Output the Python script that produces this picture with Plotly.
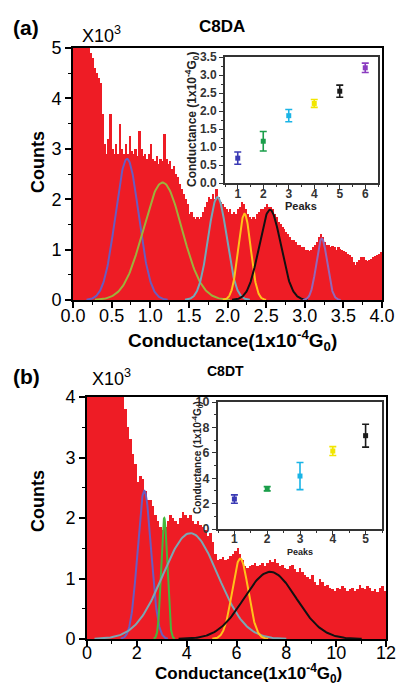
import numpy as np
import plotly.graph_objects as go

W, H = 397, 685

# ---------------- Panel (a): C8DA ----------------
a_bin_width = 0.025
a_counts = [  # x10^3 counts, bins starting at 0.0
    5.5, 5.6, 5.8, 5.5, 5.7, 5.4, 5.6, 5.3, 5.1, 4.9,
    4.8, 4.6, 4.5, 4.4, 4.3, 3.7, 3.1, 2.9, 3.2, 3.7,
    3.0, 2.9, 3.1, 2.9, 3.5, 3.0, 2.9, 3.1, 2.9, 3.25,
    2.95, 2.9, 3.0, 2.85, 3.35, 3.0, 2.85, 2.9, 2.8, 2.9,
    3.1, 2.8, 2.75, 2.85, 2.7, 2.8, 2.75, 3.3, 2.8, 2.7,
    2.75, 2.6, 2.65, 2.5, 2.45, 2.3, 2.2, 2.1, 2.0, 1.9,
    1.7, 1.75, 1.65, 1.6, 1.65, 1.6, 1.65, 1.75, 1.85, 1.95,
    2.05, 2.0, 2.1, 2.0, 2.2, 2.05, 1.95, 1.9, 1.85, 1.8,
    1.75, 1.8, 1.7, 1.75, 1.7, 1.8, 1.85, 1.95, 1.9, 1.8,
    1.7, 1.65, 1.6, 1.65, 1.6, 1.7, 1.75, 1.8, 1.8, 1.85,
    1.9, 1.85, 1.85, 1.8, 1.7, 1.65, 1.55, 1.5, 1.45, 1.4,
    1.35, 1.3, 1.25, 1.2, 1.2, 1.15, 1.1, 1.1, 1.05, 1.05,
    1.0, 1.0, 0.98, 1.0, 1.05, 1.1, 1.15, 1.25, 1.3, 1.25,
    1.15, 1.1, 1.1, 1.05, 1.08, 1.05, 1.0, 1.05, 1.02, 1.0,
    0.98, 0.95, 0.92, 0.9, 0.85, 0.75, 0.7, 0.75, 0.8, 0.85,
    0.85, 0.8, 0.78, 0.8, 0.82, 0.85, 0.88, 0.9, 0.92, 0.95,
]
a_fit_centers = [0.70, 1.16, 1.87, 2.22, 2.55, 3.22]
a_fit_heights = [2.80, 2.33, 2.04, 1.71, 1.79, 1.22]
a_fit_sigmas = [0.15, 0.25, 0.12, 0.08, 0.14, 0.07]
a_fit_colors = ["#6a5cc0", "#9cb23c", "#72a9ba", "#ffc21a", "#111111", "#9467b8"]

a_peaks = [1, 2, 3, 4, 5, 6]
a_peak_g = [0.69, 1.16, 1.87, 2.21, 2.55, 3.20]
a_peak_err = [0.17, 0.27, 0.17, 0.11, 0.17, 0.13]
a_peak_colors = ["#3a3ab4", "#1a9e4a", "#1ab4e6", "#f2e600", "#1a1a1a", "#8a3cc0"]

# ---------------- Panel (b): C8DT ----------------
b_bin_width = 0.1
b_counts = [  # x10^3 counts, bins starting at 0.0
    4.5, 4.5, 4.5, 4.5, 4.5, 4.5, 4.5, 4.5, 4.5, 4.5,
    4.5, 4.5, 4.5, 4.5, 4.3, 3.8, 3.5, 3.3, 3.05, 2.9,
    2.6, 2.7, 2.65, 2.45, 2.3, 2.3, 2.2, 2.05, 1.95, 1.85,
    1.8, 1.85, 1.95, 2.05, 2.0, 1.95, 1.9, 2.0, 2.1, 2.05,
    2.0, 2.05, 1.95, 1.9, 1.95, 1.88, 1.85, 1.8, 1.7, 1.75,
    1.6, 1.4, 1.3, 1.32, 1.35, 1.3, 1.32, 1.38, 1.4, 1.45,
    1.5, 1.4, 1.3, 1.2, 1.18, 1.2, 1.22, 1.25, 1.2, 1.22,
    1.25, 1.2, 1.25, 1.3, 1.28, 1.32, 1.25, 1.2, 1.22, 1.18,
    1.15, 1.2, 1.22, 1.15, 1.1, 1.18, 1.1, 1.05, 1.02, 1.0,
    1.05, 0.95, 0.9, 1.0, 0.95, 0.88, 0.9, 0.85, 0.82, 0.8,
    0.85, 0.82, 0.88, 0.85, 0.8, 0.82, 0.85, 0.8, 0.82, 0.9,
    0.85, 0.82, 0.88, 0.85, 0.8, 0.82, 0.78, 0.85, 0.88, 0.8,
]
b_fit_centers = [2.30, 3.10, 4.15, 6.15, 7.35]
b_fit_heights = [2.45, 2.00, 1.75, 1.33, 1.11]
b_fit_sigmas = [0.27, 0.12, 1.10, 0.32, 1.05]
b_fit_colors = ["#6a5cc0", "#44b83c", "#7aa8b4", "#ffc21a", "#111111"]

b_peaks = [1, 2, 3, 4, 5]
b_peak_g = [2.36, 3.17, 4.17, 6.14, 7.35]
b_peak_err = [0.33, 0.17, 1.07, 0.35, 0.90]
b_peak_colors = ["#3a3ab4", "#1a9e4a", "#1ab4e6", "#f2e600", "#1a1a1a"]

FONT = "Arial, Liberation Sans, sans-serif"
RED = "#ee1c25"


def px_dom(a, b, total):
    return [a / total, b / total]


def py_dom(top, bottom):
    return [1 - bottom / H, 1 - top / H]


fig = go.Figure()


def add_hist(counts, bw, xa, ya):
    centers = [(i + 0.5) * bw for i in range(len(counts))]
    fig.add_trace(go.Bar(x=centers, y=counts, width=bw, marker=dict(color=RED, line=dict(width=0)),
                         xaxis=xa, yaxis=ya, showlegend=False, hoverinfo="skip"))


def add_fits(centers, heights, sigmas, colors, xa, ya):
    for c, h, s, col in zip(centers, heights, sigmas, colors):
        xs = np.linspace(c - 3.5 * s, c + 3.5 * s, 160)
        ys = h * np.exp(-0.5 * ((xs - c) / s) ** 2)
        fig.add_trace(go.Scatter(x=xs, y=ys, mode="lines", line=dict(color=col, width=2),
                                 xaxis=xa, yaxis=ya, showlegend=False, hoverinfo="skip"))


def add_peaks(peaks, g, err, colors, xa, ya, size):
    for p, v, e, col in zip(peaks, g, err, colors):
        fig.add_trace(go.Scatter(x=[p], y=[v], mode="markers",
                                 marker=dict(color=col, size=size, symbol="square"),
                                 error_y=dict(type="data", array=[e], color=col, thickness=1.6, width=3.5),
                                 xaxis=xa, yaxis=ya, showlegend=False))


add_hist(a_counts, a_bin_width, "x", "y")
add_fits(a_fit_centers, a_fit_heights, a_fit_sigmas, a_fit_colors, "x", "y")
add_peaks(a_peaks, a_peak_g, a_peak_err, a_peak_colors, "x2", "y2", 5)
add_hist(b_counts, b_bin_width, "x3", "y3")
add_fits(b_fit_centers, b_fit_heights, b_fit_sigmas, b_fit_colors, "x3", "y3")
add_peaks(b_peaks, b_peak_g, b_peak_err, b_peak_colors, "x4", "y4", 5)

main_tick = dict(family=FONT, size=18, color="black")
inset_tick = dict(family=FONT, size=12, color="#333333", weight="bold")


def main_axis(dom, rng, dtick, minor, anchor, standoff=0):
    return dict(domain=dom, range=rng, dtick=dtick, tick0=0, showline=True, linecolor="black",
                linewidth=2, mirror=True, ticks="outside", ticklen=6, tickwidth=1.5, tickcolor="black",
                showgrid=False, zeroline=False, tickfont=main_tick, anchor=anchor, automargin=False,
                ticklabelstandoff=standoff,
                minor=dict(dtick=minor, ticks="outside", ticklen=3, tickcolor="black", tickwidth=1.2, showgrid=False))


def inset_axis(dom, rng, dtick, minor, anchor, size=12, standoff=0):
    return dict(domain=dom, range=rng, dtick=dtick, tick0=0, showline=True, linecolor="#333333",
                linewidth=2, mirror=True, ticks="outside", ticklen=4, tickwidth=1.2, tickcolor="#333333",
                showgrid=False, zeroline=False, tickfont=dict(inset_tick, size=size), anchor=anchor,
                automargin=False, ticklabelstandoff=standoff,
                minor=dict(dtick=minor, ticks="outside", ticklen=2, tickcolor="#333333", showgrid=False))


layout = dict(
    template="none",
    width=W, height=H, margin=dict(l=0, r=0, t=0, b=0, pad=0, autoexpand=False), autosize=False,
    paper_bgcolor="white", plot_bgcolor="white", bargap=0, barmode="overlay",
    showlegend=False,
    xaxis=main_axis(px_dom(73, 382, W), [0, 4], 0.5, 0.25, "y", -8),
    yaxis=main_axis(py_dom(48, 300), [0, 5], 1, 0.5, "x"),
    xaxis2=inset_axis(px_dom(225, 378, W), [0.5, 6.5], 1, 0.5, "y2", 12, -5),
    yaxis2=inset_axis(py_dom(57, 183), [0, 3.5], 0.5, 0.25, "x2"),
    xaxis3=main_axis(px_dom(87, 386, W), [0, 12], 2, 1, "y3", -10),
    yaxis3=main_axis(py_dom(397, 639), [0, 4], 1, 0.5, "x3"),
    xaxis4=inset_axis(px_dom(218, 382, W), [0.5, 5.5], 1, 0.5, "y4", 12, -6),
    yaxis4=inset_axis(py_dom(402, 529), [0, 10], 2, 1, "x4", 12.5),
)
layout["yaxis"]["tickvals"] = [0, 1, 2, 3, 4, 5]
layout["xaxis"]["tickformat"] = ".1f"
layout["yaxis2"]["tickformat"] = ".1f"
fig.update_layout(**layout)


def ann(text, x, y, size, bold=False, angle=0, color="black"):
    if bold:
        text = "<b>" + text + "</b>"
    fig.add_annotation(text=text, x=x / W, y=1 - y / H, xref="paper", yref="paper",
                       xanchor="center", yanchor="middle", showarrow=False, textangle=angle,
                       font=dict(family=FONT, size=size, color=color))


cond = "Conductance(1x10<sup>-4</sup>G<sub>0</sub>)"
cond_in = "Conductance (1x10<sup>-4</sup>G<sub>0</sub>)"

ann("(a)", 26, 27, 21, bold=True)
ann("X10<sup>3</sup>", 101, 34, 18)
ann("C8DA", 222, 26, 17, bold=True)
ann("Counts", 38, 162, 18, bold=True, angle=-90)
ann(cond, 232, 340, 19, bold=True)
ann(cond_in, 192, 119, 12, bold=True, angle=-90, color="#222222")
ann("Peaks", 301, 206, 11, bold=True, color="#222222")

ann("(b)", 26, 376, 21, bold=True)
ann("X10<sup>3</sup>", 111, 377, 18)
ann("C8DT", 225, 371, 14, bold=True)
ann("Counts", 38, 501, 18, bold=True, angle=-90)
ann(cond, 248, 673, 17, bold=True)
ann(cond_in, 197, 458, 10, bold=True, angle=-90, color="#222222")
ann("Peaks", 300, 552, 9, bold=True, color="#222222")

fig.write_html("out.html", config={"displayModeBar": False},
               post_script="document.body.style.margin='0px';")
